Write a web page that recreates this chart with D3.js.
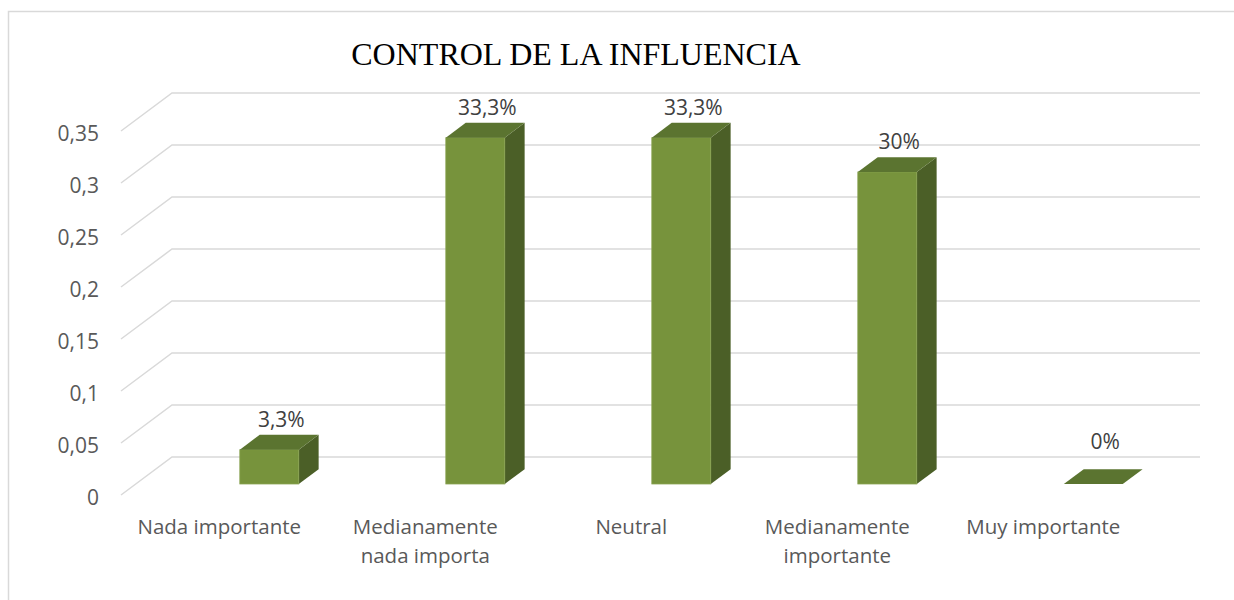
<!DOCTYPE html>
<html>
<head>
<meta charset="utf-8">
<script src="https://cdn.jsdelivr.net/npm/d3@7"></script>
<style>
  body { margin: 0; background: #fff; overflow: hidden; }
  .sans { font-family: "Open Sans", sans-serif; }
  .title { font-family: "Liberation Serif", "Times New Roman", serif; }
</style>
</head>
<body>
<div id="chart"></div>
<script>
const categories = ['Nada importante', 'Medianamente nada importa', 'Neutral',
  'Medianamente importante', 'Muy importante'];
const values = [0.033, 0.333, 0.333, 0.30, 0];
const tickValues = [0, 0.05, 0.1, 0.15, 0.2, 0.25, 0.3, 0.35];
const title = 'CONTROL DE LA INFLUENCIA';

const w = 1234;
const h = 600;

const locale = d3.formatLocale({decimal: ',', thousands: '.', grouping: [3], currency: ['', '€']});
const tickFmt = locale.format('~g');
const pctFmt = locale.format('.1~%');

const svg = d3.select('#chart').append('svg')
    .attr('width', w)
    .attr('height', h);

// chart frame (right and bottom edge fall outside the picture)
svg.append('rect')
    .attr('x', 8.5).attr('y', 11.5)
    .attr('width', 1260).attr('height', 620)
    .attr('fill', 'none')
    .attr('stroke', '#d9d9d9')
    .attr('stroke-width', 1.5);

// back wall scale, depth vector goes to the front plane
const y = d3.scaleLinear().domain([0, 0.35]).range([457, 93]);
const depth = {dx: -51, dy: 38};
const wallX0 = 172;
const wallX1 = 1200;

// bars sit inside the depth, front face and back face fractions
const fFront = 0.71;
const fBack = 0.32;

const x = d3.scaleBand()
    .domain(categories)
    .range([166.5 + 36, 1196.5 + 36]) // wall coordinates
    .paddingInner(0.714)
    .paddingOuter(0.357);

// gridlines: back wall + left side floor diagonal
const grid = svg.append('g').attr('stroke', '#d9d9d9').attr('stroke-width', 1.5).attr('fill', 'none');
grid.selectAll('path.grid')
    .data(tickValues)
    .join('path')
    .attr('class', 'grid')
    .attr('d', (d) => 'M' + (wallX0 + depth.dx) + ',' + (y(d) + depth.dy) +
      'L' + wallX0 + ',' + y(d) + 'L' + wallX1 + ',' + y(d));

// y tick labels on the front plane
svg.append('g').selectAll('text')
    .data(tickValues)
    .join('text')
    .attr('class', 'sans')
    .attr('x', 99)
    .attr('y', (d) => y(d) + depth.dy + 2)
    .attr('text-anchor', 'end')
    .attr('dominant-baseline', 'central')
    .attr('fill', '#595959')
    .attr('font-size', '21px')
    .text((d) => tickFmt(d));

// 3D bars
const bw = x.bandwidth();
const ddx = depth.dx * (fBack - fFront); // +20
const ddy = depth.dy * (fBack - fFront); // -15
const bars = svg.append('g').selectAll('g.bar')
    .data(categories.map((c, i) => ({c: c, v: values[i]})))
    .join('g')
    .attr('class', 'bar');

const fx = (d) => x(d.c) + depth.dx * fFront;
const fyBase = y(0) + depth.dy * fFront;
const fyTop = (d) => y(d.v) + depth.dy * fFront;

bars.append('path') // side
    .attr('fill', '#4b5f27')
    .attr('d', (d) => {
      const x1 = fx(d) + bw;
      return 'M' + x1 + ',' + fyTop(d) + 'L' + (x1 + ddx) + ',' + (fyTop(d) + ddy) +
        'L' + (x1 + ddx) + ',' + (fyBase + ddy) + 'L' + x1 + ',' + fyBase + 'Z';
    });
bars.append('rect') // front
    .attr('fill', '#77933c')
    .attr('stroke', '#86a04c')
    .attr('stroke-width', 0.8)
    .attr('x', (d) => fx(d))
    .attr('y', (d) => fyTop(d))
    .attr('width', bw)
    .attr('height', (d) => fyBase - fyTop(d));
bars.append('path') // top
    .attr('fill', '#5b7430')
    .attr('d', (d) => {
      const x0 = fx(d);
      const t = fyTop(d);
      return 'M' + x0 + ',' + t + 'L' + (x0 + bw) + ',' + t +
        'L' + (x0 + bw + ddx) + ',' + (t + ddy) + 'L' + (x0 + ddx) + ',' + (t + ddy) + 'Z';
    });

// data labels
bars.append('text')
    .attr('class', 'sans')
    .attr('x', (d) => fx(d) + bw / 2 + 12)
    .attr('y', (d) => Math.min(fyTop(d) + ddy, y(0)) - 8)
    .attr('text-anchor', 'middle')
    .attr('fill', '#404040')
    .attr('font-size', '21px')
    .text((d) => pctFmt(d.v));

// category labels on the front plane, wrapped
const labels = svg.append('g').selectAll('text')
    .data(categories)
    .join('text')
    .attr('class', 'sans')
    .attr('text-anchor', 'middle')
    .attr('fill', '#595959')
    .attr('font-size', '20.5px')
    .attr('x', (d) => fx({c: d}) + bw / 2 - 50)
    .attr('y', 534);

labels.each(function(d) {
  const t = d3.select(this);
  const words = d.split(' ');
  let line = [];
  const lines = [];
  const tmp = t.append('tspan');
  words.forEach((word) => {
    line.push(word);
    tmp.text(line.join(' '));
    if (tmp.node().getComputedTextLength() > 175 && line.length > 1) {
      line.pop();
      lines.push(line.join(' '));
      line = [word];
    }
  });
  lines.push(line.join(' '));
  tmp.remove();
  const cx = t.attr('x');
  lines.forEach((l, i) => {
    t.append('tspan').attr('x', cx).attr('dy', i === 0 ? 0 : 29).text(l);
  });
});

// title
svg.append('text')
    .attr('class', 'title')
    .attr('x', 576)
    .attr('y', 65)
    .attr('text-anchor', 'middle')
    .attr('font-size', '32px')
    .attr('fill', '#000')
    .text(title);
</script>
</body>
</html>
